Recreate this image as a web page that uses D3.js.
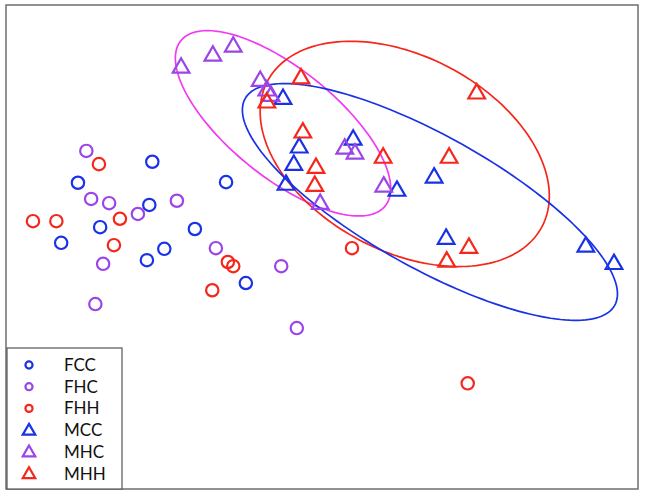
<!DOCTYPE html>
<html>
<head>
<meta charset="utf-8">
<script src="https://d3js.org/d3.v7.min.js"></script>
<style>
    body { margin: 0; background: #fff; }
    text.lab { font-family: Lato, "Open Sans", sans-serif; font-size: 17px; fill: #111; }
</style>
</head>
<body>
<svg id="chart"></svg>
<script>
    var W = 645, H = 500;

    // group names (legend order)
    var groups = ["FCC", "FHC", "FHH", "MCC", "MHC", "MHH"];
    var colors = ["#1a32e6", "#9b45e8", "#f5261b", "#1a32e6", "#9b45e8", "#f5261b"];

    // scores, [x, y]
    var FCC = [[-2.83,1.42],[-4.07,1.07],[-1.60,1.08],[-2.88,0.70],[-3.70,0.33],
               [-4.35,0.07],[-2.12,0.30],[-2.63,-0.03],[-2.92,-0.22],[-1.27,-0.60]];
    var FHC = [[-3.93,1.60],[-3.85,0.80],[-3.55,0.73],[-3.07,0.55],[-2.42,0.77],
               [-3.65,-0.28],[-1.77,-0.02],[-0.68,-0.32],[-3.78,-0.95],[-0.42,-1.35]];
    var FHH = [[-3.72,1.38],[-4.82,0.43],[-4.43,0.43],[-3.37,0.47],[-3.47,0.03],
               [-1.57,-0.25],[-1.48,-0.32],[-1.83,-0.72],[0.50,-0.02],[2.43,-2.27]];
    var MCC = [[-0.65,2.48],[0.52,1.80],[-0.38,1.67],[-0.47,1.38],[-0.60,1.05],
               [1.25,0.95],[1.87,1.17],[2.07,0.15],[4.40,0.02],[4.87,-0.27]];
    var MHC = [[-2.35,3.00],[-1.82,3.20],[-1.48,3.35],[-1.03,2.78],[-0.92,2.62],
               [-0.85,2.53],[0.38,1.65],[0.55,1.57],[1.03,1.02],[-0.03,0.73]];
    var MHH = [[-0.35,2.82],[-0.92,2.42],[-0.32,1.92],[-0.10,1.33],[-0.12,1.03],
               [1.02,1.50],[2.58,2.57],[2.12,1.50],[2.45,0.00],[2.08,-0.23]];

    // ellipses: centre x, centre y, semi-axis a, semi-axis b, angle (deg)
    var ellipseGroups = ["MHC", "MHH", "MCC"];
    var ellipseColors = ["#f03cf0", "#f5261b", "#1a32e6"];
    var ellipseCx = [-0.65, 1.38, 1.80];
    var ellipseCy = [2.06, 1.55, 0.75];
    var ellipseA = [2.19, 2.59, 3.53];
    var ellipseB = [0.90, 1.62, 1.10];
    var ellipseAngle = [-38.9, -27.9, -29.2];

    var series = [FCC, FHC, FHH, MCC, MHC, MHH];

    var plotL = 6, plotT = 5, plotR = 638, plotB = 489;

    var x = d3.scaleLinear().domain([-5.27, 5.27]).range([plotL, plotR]);
    var y = d3.scaleLinear().domain([-4.03, 4.03]).range([plotB, plotT]);

    var svg = d3.select("#chart").attr("width", W).attr("height", H);

    svg.append("rect")
        .attr("x", plotL).attr("y", plotT)
        .attr("width", plotR - plotL).attr("height", plotB - plotT)
        .attr("fill", "#fff").attr("stroke", "#6e6e6e").attr("stroke-width", 1.5);

    var line = d3.line().x(function(d){ return x(d[0]); }).y(function(d){ return y(d[1]); });

    // ellipses
    for (var e = 0; e < ellipseGroups.length; e++)
    {
        var t = ellipseAngle[e] * Math.PI / 180;
        var pts = d3.range(0, 361, 2).map(function(deg){
            var p = deg * Math.PI / 180;
            var u = ellipseA[e] * Math.cos(p), v = ellipseB[e] * Math.sin(p);
            return [ellipseCx[e] + u*Math.cos(t) - v*Math.sin(t),
                    ellipseCy[e] + u*Math.sin(t) + v*Math.cos(t)];
        });
        svg.append("path")
            .attr("d", line(pts))
            .attr("fill", "none")
            .attr("stroke", ellipseColors[e])
            .attr("stroke-width", 1.7);
    }

    var circle = d3.symbol().type(d3.symbolCircle).size(120);
    var tri = d3.symbol().type(d3.symbolTriangle).size(120);

    series.forEach(function(data, i){
        var isMale = groups[i].charAt(0) === "M";
        svg.append("g").selectAll("path")
            .data(data)
            .enter()
            .append("path")
                .attr("d", isMale ? tri : circle)
                .attr("transform", function(d){ return "translate(" + x(d[0]) + "," + (y(d[1]) + (isMale ? 1 : 0)) + ")"; })
                .attr("fill", "none")
                .attr("stroke", colors[i])
                .attr("stroke-width", 2.2);
    });

    // legend
    var lg = svg.append("g");
    lg.append("rect")
        .attr("x", 7).attr("y", 348).attr("width", 115).attr("height", 141)
        .attr("fill", "#fff").attr("stroke", "#555").attr("stroke-width", 1.2);

    var smallCircle = d3.symbol().type(d3.symbolCircle).size(40);
    var smallTri = d3.symbol().type(d3.symbolTriangle).size(68);

    groups.forEach(function(g, i){
        var yy = 365 + i * 21.7;
        lg.append("path")
            .attr("d", g.charAt(0) === "M" ? smallTri : smallCircle)
            .attr("transform", "translate(29," + (yy + (g.charAt(0) === "M" ? 1 : 0)) + ")")
            .attr("fill", "none")
            .attr("stroke", colors[i])
            .attr("stroke-width", 2.2);
        lg.append("text").classed("lab", true)
            .attr("x", 64).attr("y", yy + 6)
            .text(g);
    });
</script>
</body>
</html>
